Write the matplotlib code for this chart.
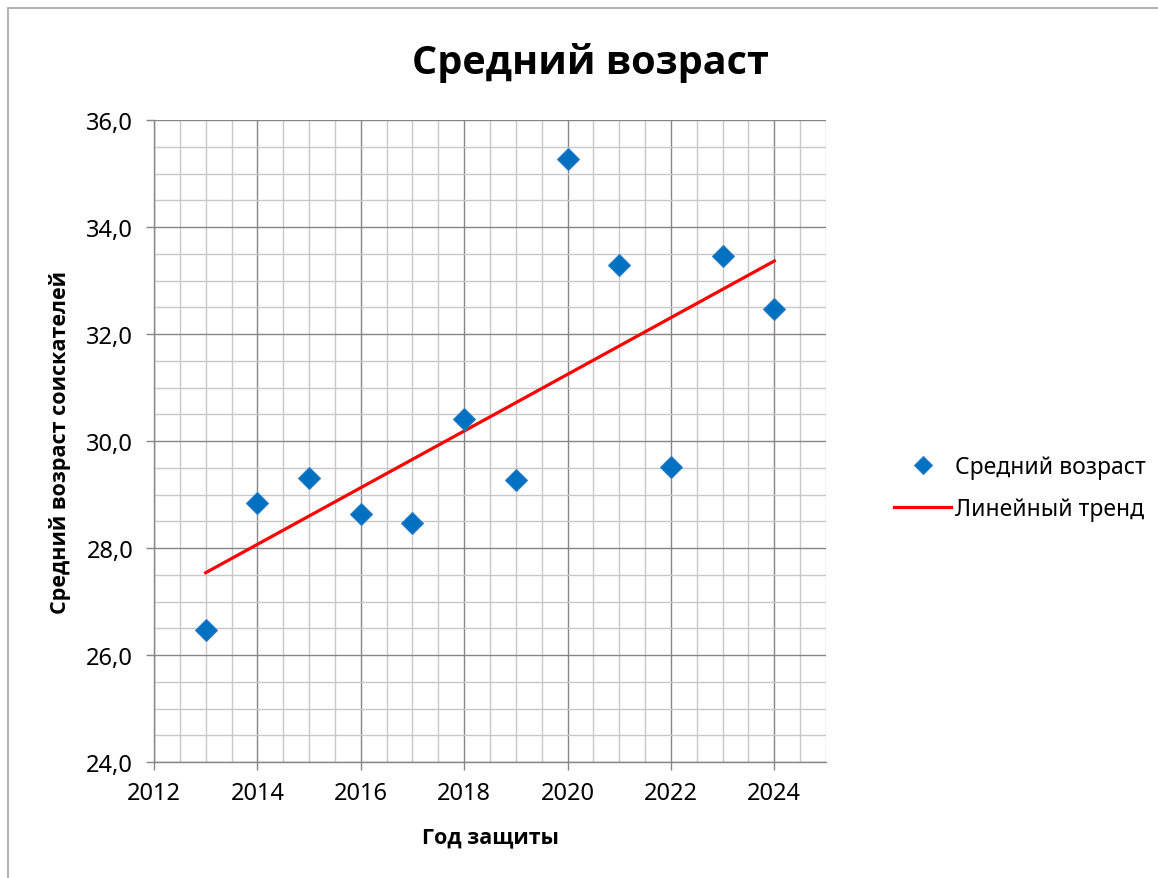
import numpy as np
import matplotlib
matplotlib.use("Agg")
import matplotlib.pyplot as plt
from matplotlib.patches import Rectangle
from matplotlib.ticker import MultipleLocator, FuncFormatter

plt.rcParams['font.family'] = ['Noto Sans', 'DejaVu Sans']
BOLD_FAMILY = ['Open Sans', 'DejaVu Sans']

years = [2013, 2014, 2015, 2016, 2017, 2018, 2019, 2020, 2021, 2022, 2023, 2024]
mean_age = [26.47, 28.84, 29.31, 28.64, 28.47, 30.41, 29.28, 35.27, 33.29, 29.51, 33.46, 32.47]

title = "Средний возраст"
x_label = "Год защиты"
y_label = "Средний возраст соискателей"
series_label = "Средний возраст"
trend_label = "Линейный тренд"

W, H = 1158, 879
fig = plt.figure(figsize=(W / 100, H / 100), dpi=100)
ax = fig.add_axes([154 / W, 1 - 763 / H, (826 - 154) / W, (763 - 121) / H])

# chart-area frame
fig.patches.append(Rectangle((8 / W, -0.05), 1.2, 1 - 9 / H + 0.05,
                             transform=fig.transFigure, fill=False,
                             edgecolor='#a6a6a6', linewidth=1.2))

x = np.array(years, dtype=float)
y = np.array(mean_age)
slope, intercept = np.polyfit(x, y, 1)
trend_x = np.array([x.min(), x.max()])
trend_y = slope * trend_x + intercept

ax.plot(x, y, linestyle='none', marker='D', markersize=11.5,
        markerfacecolor='#0070C0', markeredgecolor='#2a7fc8', markeredgewidth=0.8,
        label=series_label, zorder=4)
ax.plot(trend_x, trend_y, color='#ff0000', linewidth=2.3, label=trend_label, zorder=3)

ax.set_xlim(2012, 2025)
ax.set_ylim(24, 36)
ax.xaxis.set_major_locator(MultipleLocator(2))
ax.xaxis.set_minor_locator(MultipleLocator(0.5))
ax.yaxis.set_major_locator(MultipleLocator(2))
ax.yaxis.set_minor_locator(MultipleLocator(0.5))
ax.yaxis.set_major_formatter(FuncFormatter(lambda v, p: f"{v:.1f}".replace('.', ',')))
ax.xaxis.set_major_formatter(FuncFormatter(lambda v, p: f"{int(round(v))}"))

ax.grid(which='major', color='#868686', linewidth=1.0, zorder=1)
ax.grid(which='minor', color='#c8c8c8', linewidth=1.0, zorder=0)
ax.set_axisbelow(True)

for side in ['top', 'right']:
    ax.spines[side].set_visible(False)
for side in ['left', 'bottom']:
    ax.spines[side].set_color('#868686')
    ax.spines[side].set_linewidth(1.0)

ax.tick_params(which='major', direction='out', length=6, width=1.0, color='#868686',
               labelsize=17)
ax.tick_params(axis='x', which='major', pad=8)
ax.tick_params(axis='y', which='major', pad=9)
ax.tick_params(which='minor', length=0)

fig.text(590 / W, 1 - 63 / H, title, fontsize=28.5, fontweight='bold',
         fontstretch='normal', family=BOLD_FAMILY, ha='center', va='center')
fig.text(490 / W, 1 - 838 / H, x_label, fontsize=15.5, fontweight='bold',
         fontstretch='normal', family=BOLD_FAMILY, ha='center', va='center')
fig.text(60 / W, 1 - 442 / H, y_label, fontsize=15.5, fontweight='bold',
         fontstretch='normal', family=BOLD_FAMILY, ha='center', va='center',
         rotation=90)

leg = fig.legend(loc='center left', bbox_to_anchor=(885 / W, 1 - 489 / H),
                 frameon=False, fontsize=16.5, handlelength=2.5, handletextpad=0.15,
                 labelspacing=0.8, markerscale=0.8, borderaxespad=0)

fig.savefig("out.png", dpi=100)
